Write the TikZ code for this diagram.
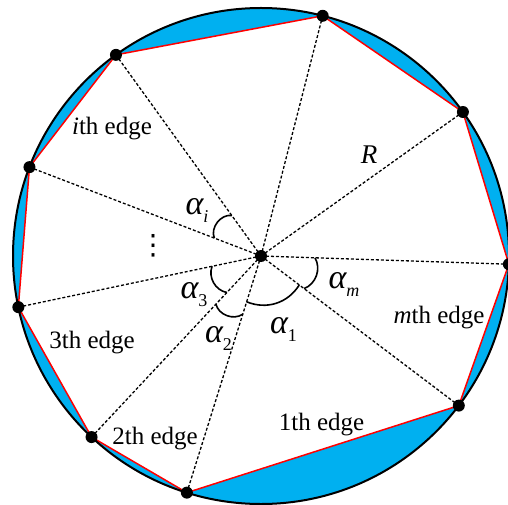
\documentclass[tikz,border=0pt]{standalone}
\usepackage{fontspec}
\setmainfont{Liberation Serif}
\newfontfamily\dotsfont{DejaVu Sans}
\usetikzlibrary{calc}
\definecolor{segblue}{RGB}{0,176,240}

\begin{document}
\begin{tikzpicture}[
  x=0.5pt,
  y=0.5pt,
  rim/.style={draw=black,line width=1pt},
  chord/.style={draw=red,line width=0.75pt,line join=round},
  spoke/.style={dash pattern=on 1.5pt off 1pt,line width=0.65pt},
  angarc/.style={line width=0.8pt},
  vtx/.style={fill=black},
  lab/.style={font=\fontsize{12.5}{14}\selectfont,inner sep=0pt},
  alab/.style={font=\fontsize{17}{19}\selectfont\itshape,inner sep=0pt}
]
\clip (0,0) rectangle (508,504);
\coordinate (o) at (261,248);
\foreach \a [count=\i] in {75.6,35.5,-1.9,-37.1,-107.4,-133.1,-168.1,159.0,125.8} {
  \coordinate (v\i) at ($(o)+(\a:248)$);
}
\fill[segblue] (o) circle[radius=248];
\fill[white] (v1) -- (v2) -- (v3) -- (v4) -- (v5) -- (v6) -- (v7) -- (v8) -- (v9) -- cycle;
\draw[chord] (v1) -- (v2) -- (v3) -- (v4) -- (v5) -- (v6) -- (v7) -- (v8) -- (v9) -- cycle;
\draw[rim] (o) circle[radius=248];
\foreach \i in {1,...,9} {
  \draw[spoke] (o) -- (v\i);
  \fill[vtx] (v\i) circle[radius=3pt];
}
\fill[vtx] (o) circle[radius=3pt];
\draw[angarc] ($(o)+(159.0:50)$) to[bend left=60] ($(o)+(125.8:50)$);
\draw[angarc] ($(o)+(226.9:50)$) to[bend left=50] ($(o)+(191.9:50)$);
\draw[angarc] ($(o)+(252.6:61)$) to[bend left=55] ($(o)+(226.9:66)$);
\draw[angarc] ($(o)+(322.9:48)$) to[bend left=40] ($(o)+(252.6:48)$);
\draw[angarc] ($(o)+(358.1:54)$) to[bend left=50] ($(o)+(322.9:54)$);
\node[lab] (ei) at (112,375) {\textit{i}th edge};
\node[lab] (em) at (439,186) {\textit{m}th edge};
\node[lab] (e1) at (321.5,79) {1th edge};
\node[lab] (e2) at (155,65) {2th edge};
\node[lab] (e3) at (92,161) {3th edge};
\node[alab,font=\fontsize{13.5}{15}\selectfont\itshape] (r) at (369,349) {R};
\node[alab] (ai) at (197,294) {α\raisebox{-4pt}{\fontsize{9}{10}\selectfont i}};
\node[alab] (a3) at (194,209.5) {α\raisebox{-4pt}{\fontsize{9}{10}\selectfont\upshape 3}};
\node[alab] (a2) at (218.5,166) {α\raisebox{-4pt}{\fontsize{9}{10}\selectfont\upshape 2}};
\node[alab] (a1) at (283.5,175) {α\raisebox{-4pt}{\fontsize{9}{10}\selectfont\upshape 1}};
\node[alab] (am) at (344,219.5) {α\raisebox{-4pt}{\fontsize{9}{10}\selectfont m}};
\node[inner sep=0pt,font=\dotsfont\fontsize{14}{16}\selectfont] (dots) at (153,258) {⋮};
\end{tikzpicture}
\end{document}
